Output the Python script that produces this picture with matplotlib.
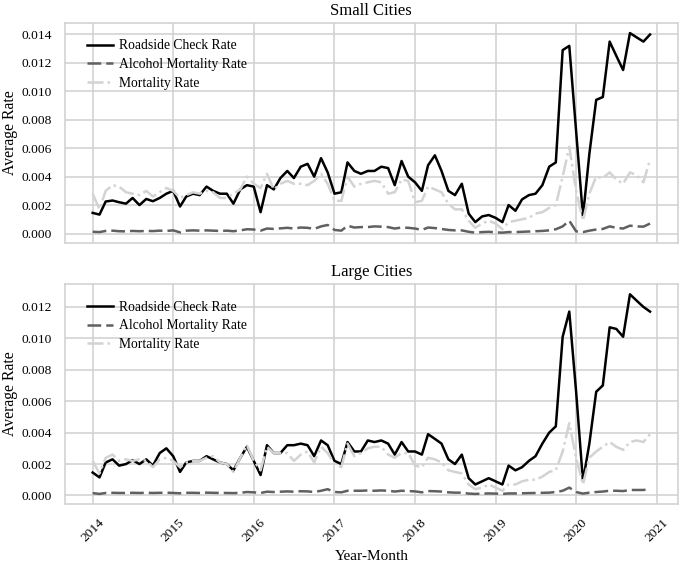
import matplotlib
matplotlib.use("Agg")
import matplotlib.pyplot as plt
import matplotlib.dates as mdates
import matplotlib.ticker as mticker
import pandas as pd

months = pd.date_range("2014-01-01", "2020-12-01", freq="MS")

small_roadside = [
    0.00145, 0.00133, 0.00225, 0.00232, 0.0022, 0.0021, 0.0025, 0.0020, 0.00243, 0.00227, 0.0025, 0.0028,
    0.0030, 0.0019, 0.0026, 0.0028, 0.0027, 0.0033, 0.0030, 0.0028, 0.0028, 0.0021, 0.0031, 0.0034,
    0.0033, 0.0015, 0.0034, 0.0031, 0.0039, 0.0044, 0.0039, 0.0047, 0.0049, 0.0040, 0.0053, 0.0043,
    0.0028, 0.0029, 0.0050, 0.0044, 0.0042, 0.0044, 0.0044, 0.0047, 0.0046, 0.0034, 0.0051, 0.0040,
    0.0036, 0.0030, 0.0048, 0.0055, 0.0044, 0.0030, 0.0027, 0.0035, 0.0014, 0.0008, 0.0012, 0.0013,
    0.0011, 0.0008, 0.0020, 0.0016, 0.0024, 0.0027, 0.0028, 0.0034, 0.0047, 0.0050, 0.0129, 0.0132,
    0.0072, 0.0012, 0.0056, 0.0094, 0.0096, 0.0135, 0.0125, 0.0115, 0.0141, 0.0138, 0.0135, 0.0140,
]
small_alcohol = [
    0.00012, 0.00010, 0.00018, 0.00020, 0.00016, 0.00015, 0.00018, 0.00016, 0.00018, 0.00017, 0.00020, 0.00018,
    0.00022, 0.00008, 0.00020, 0.00022, 0.00020, 0.00022, 0.00020, 0.00018, 0.00020, 0.00016, 0.00022, 0.00030,
    0.00028, 0.00020, 0.00035, 0.00032, 0.00036, 0.00040, 0.00035, 0.00042, 0.00040, 0.00032, 0.00050, 0.00060,
    0.00025, 0.00020, 0.00055, 0.00042, 0.00045, 0.00045, 0.00050, 0.00048, 0.00045, 0.00035, 0.00042, 0.00040,
    0.00035, 0.00025, 0.00042, 0.00038, 0.00032, 0.00025, 0.00022, 0.00022, 0.00012, 0.00006, 0.00010, 0.00012,
    0.00008, 0.00006, 0.00010, 0.00010, 0.00012, 0.00014, 0.00016, 0.00018, 0.00022, 0.00030, 0.00050, 0.00090,
    0.00015, 0.00010, 0.00020, 0.00028, 0.00032, 0.00050, 0.00040, 0.00035, 0.00055, 0.00050, 0.00048, 0.00070,
]
small_mortality = [
    0.0028, 0.0017, 0.0030, 0.0034, 0.0033, 0.0029, 0.0028, 0.0027, 0.0030, 0.0026, 0.0029, 0.0032,
    0.0030, 0.0025, 0.0027, 0.0029, 0.0028, 0.0030, 0.0029, 0.0025, 0.0025, 0.0028, 0.0031, 0.0040,
    0.0035, 0.0032, 0.0042, 0.0031, 0.0035, 0.0037, 0.0035, 0.0035, 0.0034, 0.0037, 0.0042, 0.0035,
    0.0023, 0.0023, 0.0040, 0.0033, 0.0035, 0.0036, 0.0037, 0.0036, 0.0028, 0.0029, 0.0038, 0.0037,
    0.0022, 0.0023, 0.0033, 0.0031, 0.0029, 0.0021, 0.0017, 0.0017, 0.0009, 0.0004, 0.0007, 0.0009,
    0.0007, 0.0003, 0.0008, 0.0009, 0.0010, 0.0011, 0.0014, 0.0015, 0.0018, 0.0020, 0.0040, 0.0061,
    0.0030, 0.0009, 0.0028, 0.0040, 0.0039, 0.0043, 0.0038, 0.0035, 0.0043, 0.0041, 0.0036, 0.0052,
]

large_roadside = [
    0.00146, 0.00115, 0.0021, 0.0023, 0.0019, 0.0020, 0.00225, 0.0020, 0.0023, 0.0019, 0.0027, 0.0030,
    0.0025, 0.0015, 0.0021, 0.0022, 0.0022, 0.0025, 0.0023, 0.0021, 0.0020, 0.0016, 0.0024, 0.0031,
    0.0022, 0.0013, 0.0032, 0.0027, 0.0027, 0.0032, 0.0032, 0.0033, 0.0032, 0.0025, 0.0035, 0.0032,
    0.0022, 0.0020, 0.0034, 0.0028, 0.0028, 0.0035, 0.0034, 0.0035, 0.0033, 0.0026, 0.0034, 0.0028,
    0.0028, 0.0026, 0.0039, 0.0036, 0.0033, 0.0023, 0.0020, 0.0026, 0.0011, 0.0007, 0.0009, 0.0011,
    0.0009, 0.0007, 0.0019, 0.0016, 0.0018, 0.0022, 0.0025, 0.0033, 0.0040, 0.0044, 0.0101, 0.0117,
    0.0066, 0.0009, 0.0033, 0.0066, 0.0070, 0.0107, 0.0106, 0.0101, 0.0128, 0.0124, 0.0120, 0.0117,
]
large_alcohol = [
    0.00015, 0.00010, 0.00016, 0.00017, 0.00016, 0.00016, 0.00017, 0.00016, 0.00017, 0.00016, 0.00017, 0.00018,
    0.00016, 0.00014, 0.00017, 0.00017, 0.00016, 0.00018, 0.00017, 0.00016, 0.00016, 0.00015, 0.00017, 0.00022,
    0.00020, 0.00016, 0.00024, 0.00022, 0.00024, 0.00026, 0.00024, 0.00027, 0.00026, 0.00022, 0.00030, 0.00040,
    0.00022, 0.00020, 0.00030, 0.00030, 0.00030, 0.00032, 0.00030, 0.00032, 0.00030, 0.00025, 0.00030, 0.00028,
    0.00026, 0.00020, 0.00028, 0.00027, 0.00025, 0.00020, 0.00018, 0.00018, 0.00012, 0.00010, 0.00012, 0.00013,
    0.00012, 0.00010, 0.00013, 0.00013, 0.00014, 0.00015, 0.00016, 0.00017, 0.00018, 0.00022, 0.00030, 0.00050,
    0.00022, 0.00012, 0.00018, 0.00022, 0.00025, 0.00030, 0.00030, 0.00028, 0.00035, 0.00035, 0.00035, 0.00040,
]
large_mortality = [
    0.0022, 0.0014, 0.0024, 0.0026, 0.0022, 0.0023, 0.0022, 0.0023, 0.0022, 0.0018, 0.0023, 0.0024,
    0.0022, 0.0018, 0.0021, 0.0022, 0.0022, 0.0024, 0.0025, 0.0021, 0.0020, 0.0015, 0.0024, 0.0032,
    0.0022, 0.0016, 0.0031, 0.0027, 0.0027, 0.0027, 0.0022, 0.0026, 0.0028, 0.0021, 0.0031, 0.0027,
    0.0020, 0.0018, 0.0033, 0.0025, 0.0027, 0.0030, 0.0031, 0.0031, 0.0026, 0.0024, 0.0027, 0.0027,
    0.0019, 0.0018, 0.0024, 0.0023, 0.0021, 0.0016, 0.0015, 0.0014, 0.0007, 0.0004, 0.0005, 0.0007,
    0.0005, 0.0003, 0.0007, 0.0007, 0.0009, 0.0010, 0.0010, 0.0012, 0.0015, 0.0016, 0.0028, 0.0046,
    0.0024, 0.0007, 0.0024, 0.0028, 0.0031, 0.0034, 0.0031, 0.0029, 0.0034, 0.0035, 0.0034, 0.0039,
]

panels = [
    ("Small Cities", small_roadside, small_alcohol, small_mortality),
    ("Large Cities", large_roadside, large_alcohol, large_mortality),
]

plt.rcParams["font.family"] = ["Liberation Serif", "DejaVu Serif"]

fig, axes = plt.subplots(2, 1, figsize=(6.82, 5.63), dpi=100, sharex=True)
fig.subplots_adjust(left=0.095, right=0.994, top=0.959, bottom=0.105, hspace=0.19)

for ax, (title, road, alc, mort) in zip(axes, panels):
    ax.set_facecolor("white")
    ax.grid(True, color="#d0d0d0", linewidth=1.1)
    ax.set_axisbelow(True)
    for s in ax.spines.values():
        s.set_color("#d0d0d0")
        s.set_linewidth(1.1)
    ax.plot(months, road, color="black", linewidth=1.8, label="Roadside Check Rate")
    ax.plot(months, alc, color="#606060", linewidth=1.8, linestyle=(0, (5.5, 2)), label="Alcohol Mortality Rate")
    ax.plot(months, mort, color="#d3d3d3", linewidth=1.8, linestyle="-.", label="Mortality Rate")
    ax.set_title(title, fontsize=12, pad=6)
    ax.set_ylabel("Average Rate", fontsize=11.3, labelpad=2.5)
    ax.tick_params(axis="both", labelsize=9.7, length=0, pad=9)
    ax.yaxis.set_major_locator(mticker.MultipleLocator(0.002))
    ax.yaxis.set_major_formatter(mticker.FormatStrFormatter("%.3f"))
    ax.legend(loc="upper left", bbox_to_anchor=(0.009, 1.0), frameon=False, fontsize=9.8,
              handlelength=1.9, handletextpad=0.45, borderaxespad=0.8, labelspacing=0.42)

axes[1].xaxis.set_major_locator(mdates.YearLocator())
axes[1].xaxis.set_major_formatter(mdates.DateFormatter("%Y"))
for lab in axes[1].get_xticklabels():
    lab.set_rotation(45)
axes[1].set_xlabel("Year-Month", fontsize=11)
axes[0].tick_params(axis="x", labelbottom=False)

fig.savefig("out.png", dpi=100, facecolor="white")
